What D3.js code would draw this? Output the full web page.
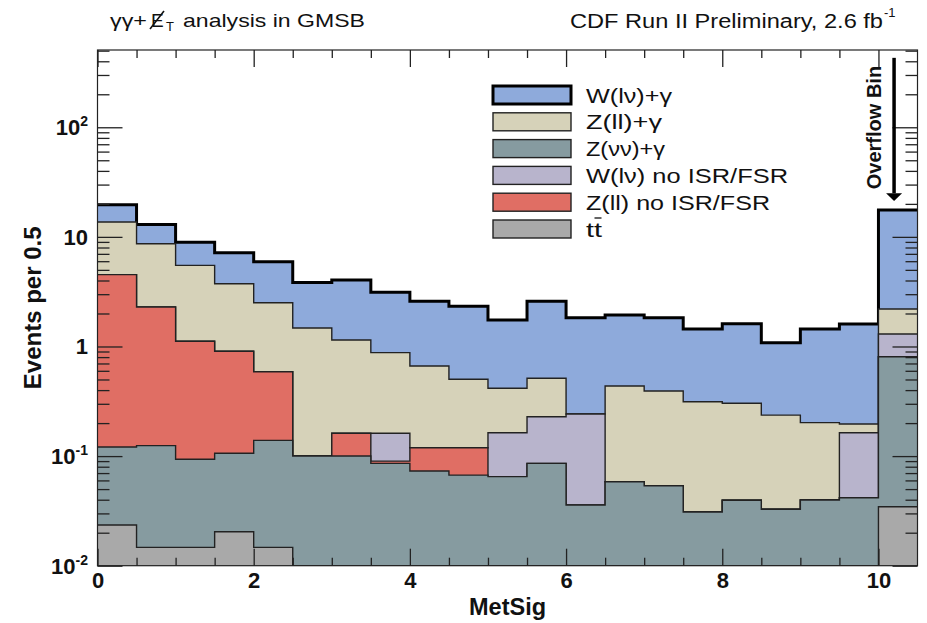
<!DOCTYPE html>
<html>
<head>
<meta charset="utf-8">
<script src="https://cdn.jsdelivr.net/npm/d3@7"></script>
<style>
  body { margin: 0; background: #fff; }
  svg { display: block; }
  text { font-family: "Liberation Sans", Arial, Helvetica, sans-serif; fill: #111; }
</style>
</head>
<body>
<svg id="chart" width="927" height="623"></svg>
<script>
// MetSig bins (low edges, width 0.5); the last bin is the overflow bin
const binLow = [0, 0.5, 1, 1.5, 2, 2.5, 3, 3.5, 4, 4.5, 5, 5.5, 6, 6.5, 7, 7.5, 8, 8.5, 9, 9.5, 10];
const binWidth = 0.5;

// Expected events per bin for each background
const ttValues    = [0.0235, 0.0147, 0.0147, 0.0204, 0.0147, 0, 0, 0, 0, 0, 0, 0, 0, 0, 0, 0, 0, 0, 0, 0, 0.0345];
const zvvValues   = [0.0976, 0.1098, 0.0789, 0.0856, 0.1243, 0.1002, 0.1002, 0.0859, 0.0731, 0.0671, 0.0649, 0.0859, 0.0358, 0.0584, 0.0537, 0.0309, 0.0395, 0.0327, 0.0398, 0.0417, 0.7725];
const zllNoValues = [4.40, 2.165, 1.021, 0.798, 0.450, 0, 0.0613, 0.0040, 0.0462, 0.0522, 0, 0, 0, 0, 0, 0, 0, 0, 0, 0, 0];
const wlvNoValues = [0, 0, 0, 0, 0, 0, 0, 0.0716, 0, 0, 0.0986, 0.1429, 0.2062, 0, 0, 0, 0, 0, 0, 0.1218, 0.493];
const zllGValues  = [9.15, 6.38, 4.385, 2.836, 1.921, 1.375, 0.985, 0.717, 0.545, 0.383, 0.2525, 0.284, 0, 0.378, 0.339, 0.282, 0.2635, 0.204, 0.162, 0.0325, 0.90];
const wlvGValues  = [6.0, 4.33, 3.43, 3.44, 3.43, 2.365, 2.894, 2.252, 1.916, 1.828, 1.33, 2.067, 1.588, 1.504, 1.437, 1.132, 1.307, 0.846, 1.243, 1.404, 15.4];

// Stack order, bottom to top
const seriesKeys = ["tt", "zvv", "zllNo", "wlvNo", "zllG", "wlvG"];
// Legend order, top to bottom
const legendKeys = ["wlvG", "zllG", "zvv", "wlvNo", "zllNo", "tt"];
const legendLabels = ["W(lν)+γ", "Z(ll)+γ", "Z(νν)+γ", "W(lν) no ISR/FSR", "Z(ll) no ISR/FSR", "tt"];

const xTicks = [0, 2, 4, 6, 8, 10];
const yTicks = [0.01, 0.1, 1, 10, 100];
const yTickBase = ["10", "10", "1", "10", "10"];
const yTickExp = ["-2", "-1", "", "", "2"];

const colors = {
  wlvG: "#8eaadb", zllG: "#d6d2b9", zvv: "#869ba0",
  wlvNo: "#b8b4cc", zllNo: "#e06e64", tt: "#a9a9a9"
};
const legendTextWidth = [86, 76, 79, 202, 184, 16];

const table = binLow.map((x0, i) => ({
  x0, x1: x0 + binWidth,
  tt: ttValues[i], zvv: zvvValues[i], zllNo: zllNoValues[i],
  wlvNo: wlvNoValues[i], zllG: zllGValues[i], wlvG: wlvGValues[i]
}));
const stacked = d3.stack().keys(seriesKeys)(table);

const svg = d3.select("#chart");
const L = 97.5, R = 917.5, T = 50, B = 565.7;
const yMin = 0.01, yMax = 507;
const x = d3.scaleLinear().domain([0, 10.5]).range([L, R]);
const y = d3.scaleLog().domain([yMin, yMax]).range([B, T]);
const yc = v => y(Math.max(v, yMin));

svg.append("clipPath").attr("id", "plotclip")
  .append("rect").attr("x", L).attr("y", T).attr("width", R - L).attr("height", B - T);

const plot = svg.append("g").attr("clip-path", "url(#plotclip)");

// Each cumulative histogram is filled from the bottom, drawn from the top layer down
const stepPoints = layer => {
  const pts = [];
  layer.forEach(d => { pts.push([d.data.x0, d[1]]); pts.push([d.data.x1, d[1]]); });
  return pts;
};
const line = d3.line().x(p => x(p[0])).y(p => yc(p[1]));

stacked.slice().reverse().forEach(layer => {
  const key = layer.key;
  const pts = stepPoints(layer);
  const area = pts.concat([[pts[pts.length - 1][0], yMin], [pts[0][0], yMin]]);
  plot.append("path").attr("d", line(area) + "Z")
    .attr("fill", colors[key]).attr("stroke", "none");
  plot.append("path").attr("d", line(pts))
    .attr("fill", "none")
    .attr("stroke", key === "wlvG" ? "#000" : "#222")
    .attr("stroke-width", key === "wlvG" ? 3 : 1.4)
    .attr("stroke-linejoin", "miter");
});

// Ticks (ROOT style, pointing inwards on all four sides)
const minorX = binLow.filter(v => !xTicks.includes(v)).concat([10.5]).filter(v => v < 10.5);
const minorY = [];
[0.01, 0.1, 1, 10, 100].forEach(dec => { for (let k = 2; k <= 9; k++) { const v = dec * k; if (v <= yMax) minorY.push(v); } });

function styleAxis(g) {
  g.select(".domain").remove();
  g.selectAll(".tick line").attr("stroke", "#222").attr("stroke-width", 1.3);
}

svg.append("g").attr("transform", `translate(0,${B})`)
  .call(d3.axisBottom(x).tickValues(xTicks).tickSize(-17).tickPadding(7).tickFormat(d3.format("d")))
  .call(styleAxis)
  .call(g => g.selectAll("text").attr("font-size", 22).attr("font-weight", "bold")
    .attr("font-family", '"Liberation Sans", Arial, sans-serif').attr("fill", "#111"));
svg.append("g").attr("transform", `translate(0,${B})`)
  .call(d3.axisBottom(x).tickValues(minorX).tickSize(-8).tickFormat(""))
  .call(styleAxis);
svg.append("g").attr("transform", `translate(0,${T})`)
  .call(d3.axisTop(x).tickValues(xTicks).tickSize(-17).tickFormat(""))
  .call(styleAxis);
svg.append("g").attr("transform", `translate(0,${T})`)
  .call(d3.axisTop(x).tickValues(minorX).tickSize(-8).tickFormat(""))
  .call(styleAxis);

svg.append("g").attr("transform", `translate(${L},0)`)
  .call(d3.axisLeft(y).tickValues(yTicks).tickSize(-25).tickFormat(""))
  .call(styleAxis);
svg.append("g").attr("transform", `translate(${L},0)`)
  .call(d3.axisLeft(y).tickValues(minorY).tickSize(-12).tickFormat(""))
  .call(styleAxis);
svg.append("g").attr("transform", `translate(${R},0)`)
  .call(d3.axisRight(y).tickValues(yTicks).tickSize(-25).tickFormat(""))
  .call(styleAxis);
svg.append("g").attr("transform", `translate(${R},0)`)
  .call(d3.axisRight(y).tickValues(minorY).tickSize(-12).tickFormat(""))
  .call(styleAxis);

// Y tick labels with exponents
yTicks.forEach((v, i) => {
  const t = svg.append("text").attr("x", 88).attr("y", y(v) + 8)
    .attr("text-anchor", "end").attr("font-size", 22).attr("font-weight", "bold");
  t.append("tspan").text(yTickBase[i]);
  if (yTickExp[i]) t.append("tspan").attr("dy", -9).attr("font-size", 14).text(yTickExp[i]);
});

// Frame
svg.append("rect").attr("x", L).attr("y", T).attr("width", R - L).attr("height", B - T)
  .attr("fill", "none").attr("stroke", "#222").attr("stroke-width", 1.2);

// Axis titles
svg.append("text").attr("x", (L + R) / 2).attr("y", 615).attr("text-anchor", "middle")
  .attr("font-size", 23.5).attr("font-weight", "bold").text("MetSig");
svg.append("text").attr("transform", `translate(41,${(T + B) / 2}) rotate(-90)`)
  .attr("text-anchor", "middle").attr("font-size", 24).attr("font-weight", "bold")
  .text("Events per 0.5");

// Legend
const legendY = i => 95 + i * 26.8;
legendKeys.forEach((key, i) => {
  const cy = legendY(i);
  svg.append("rect").attr("x", 493).attr("y", cy - 9).attr("width", 78).attr("height", 18)
    .attr("fill", colors[key])
    .attr("stroke", key === "wlvG" ? "#000" : "#222")
    .attr("stroke-width", key === "wlvG" ? 3 : 1.4);
  const t = svg.append("text").attr("x", 586).attr("y", cy + 7.5)
    .attr("font-size", 21).attr("textLength", legendTextWidth[i])
    .attr("lengthAdjust", "spacingAndGlyphs").text(legendLabels[i]);
  if (key === "tt") {
    const e = t.node().getExtentOfChar(1);
    svg.append("line").attr("x1", e.x + 0.5).attr("x2", e.x + e.width - 0.5)
      .attr("y1", cy - 11).attr("y2", cy - 11).attr("stroke", "#111").attr("stroke-width", 1.3);
  }
});

// Overflow bin marker
const arrowX = x(10.2);
svg.append("line").attr("x1", arrowX).attr("x2", arrowX).attr("y1", y(430)).attr("y2", y(25))
  .attr("stroke", "#000").attr("stroke-width", 3.5);
svg.append("path")
  .attr("d", `M${arrowX - 8},${y(25)}L${arrowX + 8},${y(25)}L${arrowX},${y(21.3)}Z`)
  .attr("fill", "#000");
svg.append("text").attr("transform", `translate(881,${(y(430) + y(25)) / 2 + 2}) rotate(-90)`)
  .attr("text-anchor", "middle").attr("font-size", 20).attr("font-weight", "bold")
  .text("Overflow Bin");

// Header texts
svg.append("text").attr("x", 110).attr("y", 27).attr("font-size", 19)
  .attr("textLength", 37).attr("lengthAdjust", "spacingAndGlyphs").text("γγ+");
svg.append("text").attr("x", 151).attr("y", 27).attr("font-size", 19).text("E");
svg.append("line").attr("x1", 150).attr("y1", 29).attr("x2", 164).attr("y2", 11)
  .attr("stroke", "#111").attr("stroke-width", 1.6);
svg.append("text").attr("x", 166).attr("y", 31).attr("font-size", 13).text("T");
svg.append("text").attr("x", 183).attr("y", 27).attr("font-size", 19)
  .attr("textLength", 182).attr("lengthAdjust", "spacingAndGlyphs").text("analysis in GMSB");

svg.append("text").attr("x", 570).attr("y", 28).attr("font-size", 20)
  .attr("textLength", 313).attr("lengthAdjust", "spacingAndGlyphs")
  .text("CDF Run II Preliminary, 2.6 fb");
svg.append("text").attr("x", 884).attr("y", 17).attr("font-size", 13).text("-1");
</script>
</body>
</html>
